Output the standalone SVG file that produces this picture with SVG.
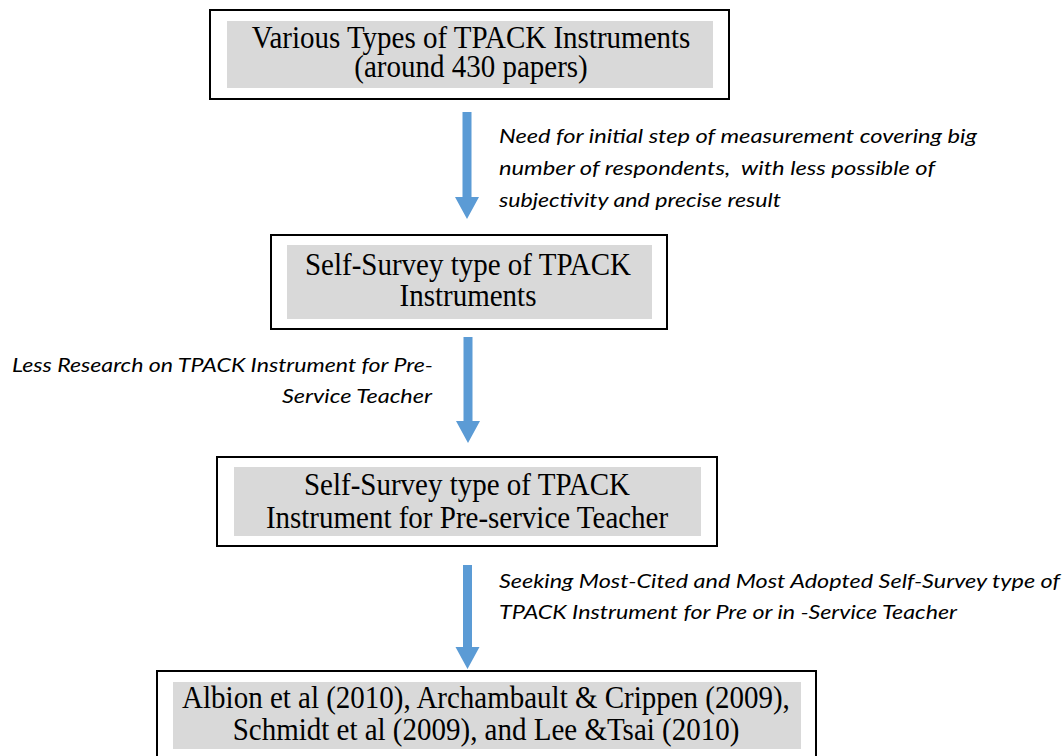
<svg xmlns="http://www.w3.org/2000/svg" width="1064" height="756" viewBox="0 0 1064 756">
  <style>
    .frame { fill: #ffffff; stroke: #000000; stroke-width: 2; }
    .band { fill: #d9d9d9; }
    .title { font-family: "Liberation Serif", "Times New Roman", serif; font-size: 29px; fill: #000000; text-anchor: middle; }
    .note { font-family: Lato, "Liberation Sans", sans-serif; font-style: italic; font-size: 19.5px; fill: #000000; white-space: pre; }
    .arrow { fill: #5b9bd5; }
  </style>

  <rect width="1064" height="756" fill="#ffffff"/>

  <!-- flow arrows and their captions -->
  <g id="connectors">
    <polygon class="arrow" points="462.5,112 471.5,112 471.5,197 479,197 467,219 455,197 462.5,197"/>
    <polygon class="arrow" points="463.5,337 472.5,337 472.5,421 480,421 468,443 456,421 463.5,421"/>
    <polygon class="arrow" points="463,565 472,565 472,647 479.5,647 467.5,669 455.5,647 463,647"/>

    <text class="note" x="499" y="143" textLength="478" lengthAdjust="spacingAndGlyphs">Need for initial step of measurement covering big</text>
    <text class="note" x="499" y="175" textLength="436" lengthAdjust="spacingAndGlyphs" xml:space="preserve">number of respondents,  with less possible of</text>
    <text class="note" x="499" y="207" textLength="282" lengthAdjust="spacingAndGlyphs">subjectivity and precise result</text>

    <text class="note" x="12" y="372" textLength="421" lengthAdjust="spacingAndGlyphs">Less Research on TPACK Instrument for Pre-</text>
    <text class="note" x="282" y="403" textLength="150" lengthAdjust="spacingAndGlyphs">Service Teacher</text>

    <text class="note" x="499" y="588" textLength="561" lengthAdjust="spacingAndGlyphs">Seeking Most-Cited and Most Adopted Self-Survey type of</text>
    <text class="note" x="499" y="619" textLength="458" lengthAdjust="spacingAndGlyphs">TPACK Instrument for Pre or in -Service Teacher</text>
  </g>

  <!-- box titles are set slightly tall: matrix(1 0 0 1.1 x baseline) -->
  <g id="node-various-types">
    <rect class="frame" x="210" y="10" width="519" height="89"/>
    <rect class="band" x="227" y="21" width="486" height="67"/>
    <text class="title" transform="matrix(1 0 0 1.1 471 48)">Various Types of TPACK Instruments</text>
    <text class="title" transform="matrix(1 0 0 1.1 471 77)">(around 430 papers)</text>
  </g>

  <g id="node-self-survey">
    <rect class="frame" x="271" y="235" width="396" height="94"/>
    <rect class="band" x="287" y="245" width="365" height="74"/>
    <text class="title" transform="matrix(1 0 0 1.1 468 275)">Self-Survey type of TPACK</text>
    <text class="title" transform="matrix(1 0 0 1.1 468 306)">Instruments</text>
  </g>

  <g id="node-pre-service">
    <rect class="frame" x="217" y="457" width="500" height="89"/>
    <rect class="band" x="234" y="467" width="467" height="69"/>
    <text class="title" transform="matrix(1 0 0 1.1 467 495)">Self-Survey type of TPACK</text>
    <text class="title" transform="matrix(1 0 0 1.1 467 528)">Instrument for Pre-service Teacher</text>
  </g>

  <g id="node-selected-instruments">
    <rect class="frame" x="157" y="671" width="659" height="100"/>
    <rect class="band" x="173" y="682" width="628" height="67"/>
    <text class="title" transform="matrix(1 0 0 1.1 486 708)">Albion et al (2010), Archambault &amp; Crippen (2009),</text>
    <text class="title" transform="matrix(1 0 0 1.1 486 740)">Schmidt et al (2009), and Lee &amp;Tsai (2010)</text>
  </g>
</svg>
